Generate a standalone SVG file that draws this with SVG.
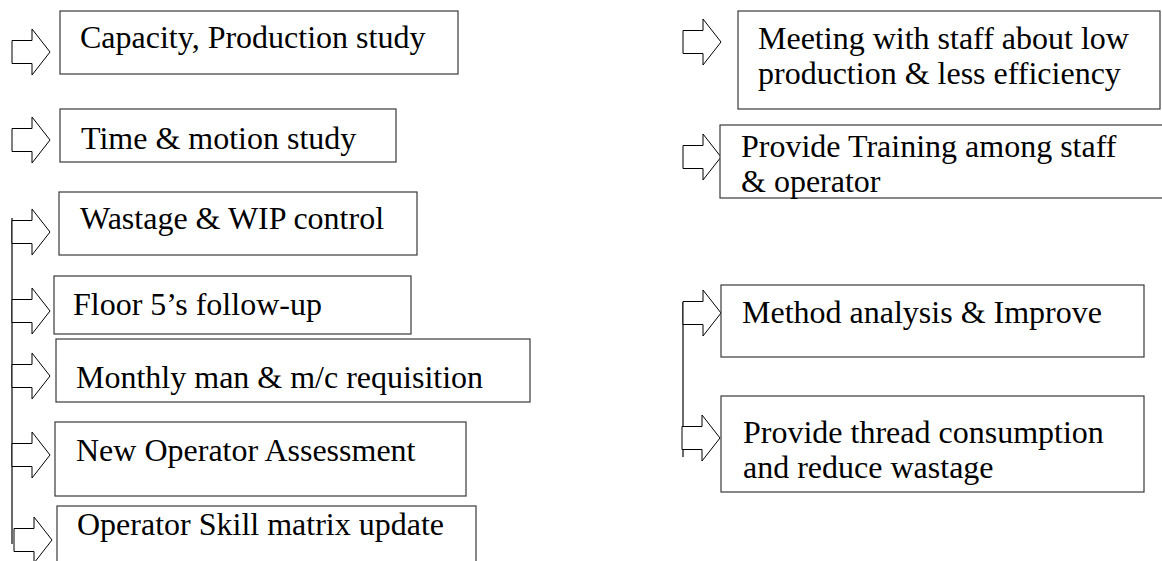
<svg xmlns="http://www.w3.org/2000/svg" xmlns:xlink="http://www.w3.org/1999/xlink" width="1162" height="561" viewBox="0 0 1162 561">
  <style>
    .box { fill: #ffffff; stroke: #3a3a3a; stroke-width: 1.2; }
    .lbl { font-family: "Liberation Serif", "Times New Roman", serif; font-size: 32px; fill: #000000; }
    .arrow { fill: #ffffff; stroke: #000000; stroke-width: 1; stroke-linejoin: miter; }
    .rail { stroke: #6a6a6a; stroke-width: 2; fill: none; }
  </style>
  <defs>
    <!-- block arrow, origin at the tail centre -->
    <path id="blockArrow" class="arrow" d="M0,-11.5 H20 V-23 L38,0 L20,23 V11.5 H0 Z"/>
  </defs>
  <rect width="1162" height="561" fill="#ffffff"/>

  <g id="connectors">
    <line class="rail" x1="12" y1="218" x2="12" y2="544"/>
    <line class="rail" x1="683" y1="302" x2="683" y2="457"/>
    <use xlink:href="#blockArrow" x="12" y="52"/>
    <use xlink:href="#blockArrow" x="12" y="140"/>
    <use xlink:href="#blockArrow" x="12" y="232"/>
    <use xlink:href="#blockArrow" x="12" y="311"/>
    <use xlink:href="#blockArrow" x="12" y="376"/>
    <use xlink:href="#blockArrow" x="12" y="455"/>
    <use xlink:href="#blockArrow" x="14" y="540"/>
    <use xlink:href="#blockArrow" x="683" y="42"/>
    <use xlink:href="#blockArrow" x="683" y="157"/>
    <use xlink:href="#blockArrow" x="683" y="313"/>
    <use xlink:href="#blockArrow" x="682" y="438"/>
  </g>

  <g id="capacity-study">
    <rect class="box" x="60" y="11" width="398" height="63"/>
    <text class="lbl" x="80" y="48">Capacity, Production study</text>
  </g>
  <g id="time-motion">
    <rect class="box" x="60" y="109" width="336" height="53"/>
    <text class="lbl" x="81" y="149">Time &amp; motion study</text>
  </g>
  <g id="wastage-wip">
    <rect class="box" x="59" y="192" width="358" height="63"/>
    <text class="lbl" x="80" y="229">Wastage &amp; WIP control</text>
  </g>
  <g id="floor-followup">
    <rect class="box" x="54" y="276" width="357" height="58"/>
    <text class="lbl" x="73" y="315">Floor 5’s follow-up</text>
  </g>
  <g id="monthly-requisition">
    <rect class="box" x="56" y="339" width="474" height="63"/>
    <text class="lbl" x="76" y="388">Monthly man &amp; m/c requisition</text>
  </g>
  <g id="operator-assessment">
    <rect class="box" x="55" y="422" width="411" height="74"/>
    <text class="lbl" x="76" y="461">New Operator Assessment</text>
  </g>
  <g id="skill-matrix">
    <rect class="box" x="57" y="506" width="419" height="70"/>
    <text class="lbl" x="77" y="535">Operator Skill matrix update</text>
  </g>

  <g id="staff-meeting">
    <rect class="box" x="738" y="11" width="422" height="98"/>
    <text class="lbl" x="758" y="49">Meeting with staff about low</text>
    <text class="lbl" x="758" y="84">production &amp; less efficiency</text>
  </g>
  <g id="training">
    <rect class="box" x="720" y="125" width="450" height="73"/>
    <text class="lbl" x="741" y="157">Provide Training among staff</text>
    <text class="lbl" x="741" y="192">&amp; operator</text>
  </g>
  <g id="method-analysis">
    <rect class="box" x="721" y="285" width="423" height="72"/>
    <text class="lbl" x="742" y="323">Method analysis &amp; Improve</text>
  </g>
  <g id="thread-consumption">
    <rect class="box" x="721" y="396" width="423" height="96"/>
    <text class="lbl" x="743" y="443">Provide thread consumption</text>
    <text class="lbl" x="743" y="478">and reduce wastage</text>
  </g>
</svg>
